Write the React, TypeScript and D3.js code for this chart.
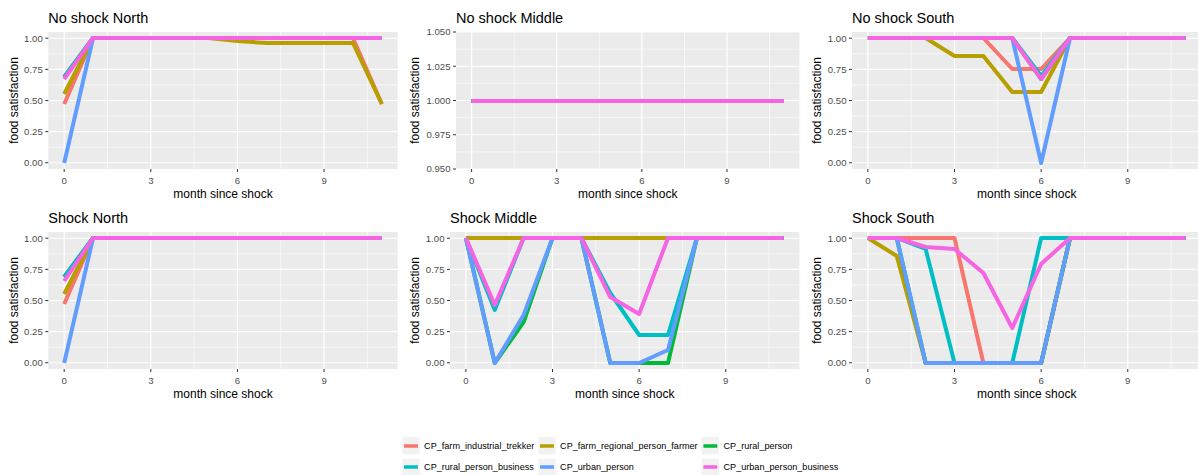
import React from "react";
import * as d3 from "d3";

const months = [0, 1, 2, 3, 4, 5, 6, 7, 8, 9, 10, 11];

const seriesNames = [
  "CP_farm_industrial_trekker",
  "CP_farm_regional_person_farmer",
  "CP_rural_person",
  "CP_rural_person_business",
  "CP_urban_person",
  "CP_urban_person_business",
];
const seriesColors = ["#F8766D", "#B79F00", "#00BA38", "#00BFC4", "#619CFF", "#F564E3"];

const xTicks = [0, 3, 6, 9];
const xMinorTicks = [1.5, 4.5, 7.5, 10.5];
const yTicksUnit = [0, 0.25, 0.5, 0.75, 1];
const yMinorUnit = [0.125, 0.375, 0.625, 0.875];
const yTicksFlat = [0.95, 0.975, 1.0, 1.025, 1.05];
const yMinorFlat = [0.9625, 0.9875, 1.0125, 1.0375];

// series order: trekker, farmer, rural, rural_business, urban, urban_business
const noShockNorth = [
  [0.47, 1, 1, 1, 1, 1, 1, 1, 1, 1, 1, 0.47],
  [0.55, 1, 1, 1, 1, 1, 0.98, 0.965, 0.965, 0.965, 0.965, 0.47],
  [0.69, 1, 1, 1, 1, 1, 1, 1, 1, 1, 1, 1],
  [0.69, 1, 1, 1, 1, 1, 1, 1, 1, 1, 1, 1],
  [0.0, 1, 1, 1, 1, 1, 1, 1, 1, 1, 1, 1],
  [0.67, 1, 1, 1, 1, 1, 1, 1, 1, 1, 1, 1],
];
const noShockMiddle = [
  [1, 1, 1, 1, 1, 1, 1, 1, 1, 1, 1, 1],
  [1, 1, 1, 1, 1, 1, 1, 1, 1, 1, 1, 1],
  [1, 1, 1, 1, 1, 1, 1, 1, 1, 1, 1, 1],
  [1, 1, 1, 1, 1, 1, 1, 1, 1, 1, 1, 1],
  [1, 1, 1, 1, 1, 1, 1, 1, 1, 1, 1, 1],
  [1, 1, 1, 1, 1, 1, 1, 1, 1, 1, 1, 1],
];
const noShockSouth = [
  [1, 1, 1, 1, 1, 0.75, 0.75, 1, 1, 1, 1, 1],
  [1, 1, 1, 0.86, 0.86, 0.57, 0.57, 1, 1, 1, 1, 1],
  [1, 1, 1, 1, 1, 1, 0.67, 1, 1, 1, 1, 1],
  [1, 1, 1, 1, 1, 1, 0.7, 1, 1, 1, 1, 1],
  [1, 1, 1, 1, 1, 1, 0.0, 1, 1, 1, 1, 1],
  [1, 1, 1, 1, 1, 1, 0.67, 1, 1, 1, 1, 1],
];
const shockNorth = [
  [0.47, 1, 1, 1, 1, 1, 1, 1, 1, 1, 1, 1],
  [0.55, 1, 1, 1, 1, 1, 1, 1, 1, 1, 1, 1],
  [0.69, 1, 1, 1, 1, 1, 1, 1, 1, 1, 1, 1],
  [0.69, 1, 1, 1, 1, 1, 1, 1, 1, 1, 1, 1],
  [0.0, 1, 1, 1, 1, 1, 1, 1, 1, 1, 1, 1],
  [0.66, 1, 1, 1, 1, 1, 1, 1, 1, 1, 1, 1],
];
const shockMiddle = [
  [1, 1, 1, 1, 1, 1, 1, 1, 1, 1, 1, 1],
  [1, 1, 1, 1, 1, 1, 1, 1, 1, 1, 1, 1],
  [1, 0.0, 0.33, 1, 1, 0.0, 0.0, 0.0, 1, 1, 1, 1],
  [1, 0.42, 1, 1, 1, 0.56, 0.22, 0.22, 1, 1, 1, 1],
  [1, 0.0, 0.38, 1, 1, 0.0, 0.0, 0.1, 1, 1, 1, 1],
  [1, 0.46, 1, 1, 1, 0.53, 0.39, 1, 1, 1, 1, 1],
];
const shockSouth = [
  [1, 1, 1, 1, 0.0, 0.0, 0.0, 1, 1, 1, 1, 1],
  [1, 0.86, 0.0, 0.0, 0.0, 0.0, 0.0, 1, 1, 1, 1, 1],
  [1, 1, 0.0, 0.0, 0.0, 0.0, 0.0, 1, 1, 1, 1, 1],
  [1, 1, 0.91, 0.0, 0.0, 0.0, 1, 1, 1, 1, 1, 1],
  [1, 1, 0.0, 0.0, 0.0, 0.0, 0.0, 1, 1, 1, 1, 1],
  [1, 1, 0.93, 0.91, 0.72, 0.28, 0.79, 1, 1, 1, 1, 1],
];

const panelTitles = [
  "No shock North",
  "No shock Middle",
  "No shock South",
  "Shock North",
  "Shock Middle",
  "Shock South",
];
const panelData = [noShockNorth, noShockMiddle, noShockSouth, shockNorth, shockMiddle, shockSouth];

const FONT = "'Liberation Sans', Arial, Helvetica, sans-serif";
const W = 1198;
const H = 475;
const colX = [0, 401.7, 803.7];
const rowTop = [32, 232];
const panelH = 137;

type PanelProps = {
  idx: number;
  title: string;
  series: number[][];
  colLeft: number;
  top: number;
  flat: boolean;
};

function Panel({ idx, title, series, colLeft, top, flat }: PanelProps) {
  const left = colLeft + (flat ? 54.3 : 48.3);
  const right = colLeft + 397.7;
  const bottom = top + panelH;
  const x = d3.scaleLinear().domain([-0.55, 11.55]).range([left, right]);
  const yDomain = flat ? [0.95, 1.05] : [-0.05, 1.05];
  const y = d3.scaleLinear().domain(yDomain).range([bottom, top]);
  // pixel-snapped scale for the data lines so coincident strokes render crisply
  const yLine = d3.scaleLinear().domain(yDomain).rangeRound([bottom, top]);
  const yT = flat ? yTicksFlat : yTicksUnit;
  const yM = flat ? yMinorFlat : yMinorUnit;
  const fmt = d3.format(flat ? ".3f" : ".2f");
  const line = d3
    .line<number>()
    .x((_, i) => x(months[i]))
    .y((d) => yLine(d));
  const clipId = `clip-${idx}`;
  return (
    <g>
      <defs>
        <clipPath id={clipId}>
          <rect x={left} y={top} width={right - left} height={bottom - top} />
        </clipPath>
      </defs>
      <rect x={left} y={top} width={right - left} height={bottom - top} fill="#EBEBEB" />
      <g clipPath={`url(#${clipId})`}>
        {yM.map((t) => (
          <line key={`ym${t}`} x1={left} x2={right} y1={y(t)} y2={y(t)} stroke="#fff" strokeWidth={0.6} />
        ))}
        {xMinorTicks.map((t) => (
          <line key={`xm${t}`} x1={x(t)} x2={x(t)} y1={top} y2={bottom} stroke="#fff" strokeWidth={0.6} />
        ))}
        {yT.map((t) => (
          <line key={`yM${t}`} x1={left} x2={right} y1={y(t)} y2={y(t)} stroke="#fff" strokeWidth={1.2} />
        ))}
        {xTicks.map((t) => (
          <line key={`xM${t}`} x1={x(t)} x2={x(t)} y1={top} y2={bottom} stroke="#fff" strokeWidth={1.2} />
        ))}
      </g>
      <g clipPath={`url(#${clipId})`}>
        {series.map((s, i) => (
          <path
            key={`s${i}`}
            d={line(s) || ""}
            fill="none"
            stroke={seriesColors[i]}
            strokeWidth={4}
            strokeLinejoin="round"
            strokeLinecap="butt"
          />
        ))}
      </g>
      <text x={left} y={top - 9.5} fontFamily={FONT} fontSize={14.5} fill="#000">
        {title}
      </text>
      {yT.map((t) => (
        <g key={`yt${t}`}>
          <line x1={left - 3} x2={left} y1={y(t)} y2={y(t)} stroke="#333" strokeWidth={1} />
          <text
            x={left - 5.5}
            y={y(t)}
            dy="0.35em"
            textAnchor="end"
            fontFamily={FONT}
            fontSize={9.6}
            fill="#4D4D4D"
          >
            {fmt(t)}
          </text>
        </g>
      ))}
      {xTicks.map((t) => (
        <g key={`xt${t}`}>
          <line x1={x(t)} x2={x(t)} y1={bottom} y2={bottom + 3} stroke="#333" strokeWidth={1} />
          <text
            x={x(t)}
            y={bottom + 14.5}
            textAnchor="middle"
            fontFamily={FONT}
            fontSize={9.6}
            fill="#4D4D4D"
          >
            {t}
          </text>
        </g>
      ))}
      <text
        x={(left + right) / 2}
        y={bottom + 29}
        textAnchor="middle"
        fontFamily={FONT}
        fontSize={12}
        fill="#000"
      >
        month since shock
      </text>
      <text
        transform={`translate(${colLeft + 13.5},${(top + bottom) / 2}) rotate(-90)`}
        dy="0.35em"
        textAnchor="middle"
        fontFamily={FONT}
        fontSize={12}
        fill="#000"
      >
        food satisfaction
      </text>
    </g>
  );
}

const legendColX = [402.3, 538.3, 701.7];
const legendRowY = [445.7, 467.3];

export default function App() {
  const key = 17.3;
  return (
    <svg
      width={W}
      height={H}
      viewBox={`0 0 ${W} ${H}`}
      style={{ position: "absolute", left: 0, top: 0, display: "block", background: "#fff" }}
    >
      <rect x={0} y={0} width={W} height={H} fill="#fff" />
      {panelData.map((series, i) => (
        <Panel
          key={i}
          idx={i}
          title={panelTitles[i]}
          series={series}
          colLeft={colX[i % 3]}
          top={rowTop[Math.floor(i / 3)]}
          flat={i === 1}
        />
      ))}
      {seriesNames.map((name, i) => {
        const cx = legendColX[i % 3];
        const cy = legendRowY[Math.floor(i / 3)];
        return (
          <g key={name}>
            <rect x={cx} y={cy - key / 2} width={key} height={key} fill="#F2F2F2" />
            <line
              x1={cx + 1.7}
              x2={cx + key - 1.7}
              y1={Math.round(cy)}
              y2={Math.round(cy)}
              stroke={seriesColors[i]}
              strokeWidth={3.5}
            />
            <text x={cx + key + 4.5} y={cy} dy="0.35em" fontFamily={FONT} fontSize={9.1} fill="#000">
              {name}
            </text>
          </g>
        );
      })}
    </svg>
  );
}
